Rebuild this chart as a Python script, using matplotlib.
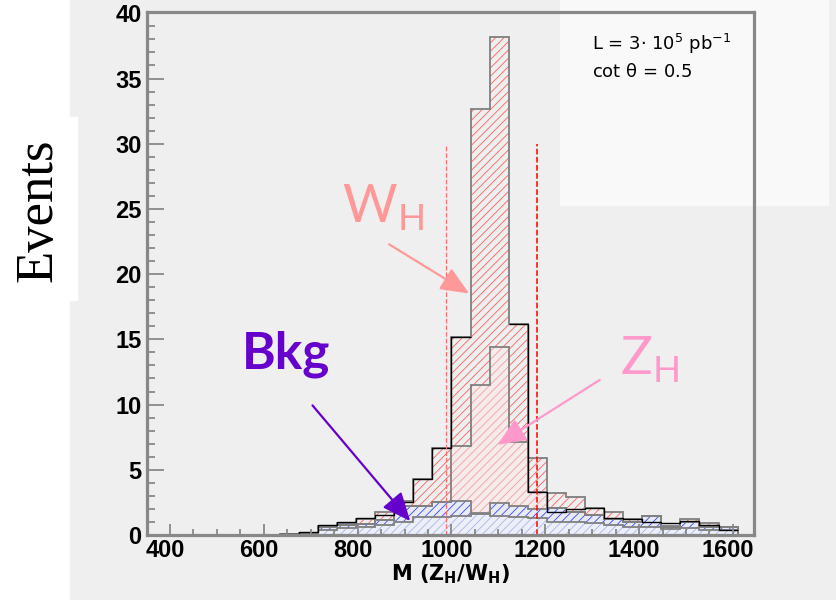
import numpy as np
import matplotlib.pyplot as plt
from matplotlib.patches import Rectangle
from matplotlib.ticker import MultipleLocator
from matplotlib.transforms import ScaledTranslation

plt.rcParams['hatch.linewidth'] = 0.6
plt.rcParams['mathtext.default'] = 'regular'

# ---------------- Data (24 bins, ~40.7 GeV wide) ----------------
edges = 634 + 40.67 * np.arange(25)

w_total = [0.1, 0.15, 0.7, 0.9, 1.2, 1.8, 2.6, 4.3, 6.7, 15.2, 32.7, 38.2,
           16.2, 5.9, 3.2, 2.9, 2.1, 1.8, 1.2, 1.45, 0.7, 1.2, 0.95, 0.6]
z_total = [0.05, 0.1, 0.6, 0.75, 0.88, 1.15, 2.2, 2.25, 2.56, 6.8, 11.5, 14.4,
           7.1, 3.3, 2.05, 1.8, 1.55, 1.2, 0.97, 1.46, 0.64, 0.97, 0.6, 0.6]
bkg = [0.05, 0.1, 0.6, 0.75, 0.88, 1.15, 2.2, 2.25, 2.56, 2.6, 1.7, 2.45,
       2.2, 2.0, 2.05, 1.8, 1.55, 1.2, 0.97, 1.46, 0.64, 0.97, 0.6, 0.6]
bkg_low = [0.0, 0.05, 0.4, 0.5, 0.6, 0.8, 1.0, 1.35, 1.4, 1.45, 1.6, 1.45,
           1.4, 1.3, 1.0, 1.0, 0.9, 0.8, 0.6, 0.6, 0.45, 0.5, 0.4, 0.4]
# black overlay; nan where it sits under the grey peak outline
black_line = [0.1, 0.2, 0.8, 1.0, 1.3, 1.5, 2.5, 4.3, 6.7, 15.2, np.nan, np.nan,
              16.2, 3.3, 1.8, 2.0, 2.1, 1.3, 1.2, 1.0, 0.9, 1.1, 0.8, 0.4]

mass_window = [988, 1183]
xticks = [400, 600, 800, 1000, 1200, 1400, 1600]
yticks = [0, 5, 10, 15, 20, 25, 30, 35, 40]

# ---------------- Figure ----------------
W, H = 837, 600
fig = plt.figure(figsize=(W / 100, H / 100), dpi=100)
fig.patch.set_facecolor('white')

# canvas background and the white boxes pasted on top of it
fig.add_artist(Rectangle((70 / W, 0), 1 - 70 / W, 1, transform=fig.transFigure,
                         color='#efefef', zorder=-10))
fig.add_artist(Rectangle((560 / W, 1 - 205 / H), 268 / W, 205 / H,
                         transform=fig.transFigure, color='#f9f9f9', zorder=-9))
fig.add_artist(Rectangle((0, 1 - 300 / H), 77 / W, 183 / H,
                         transform=fig.transFigure, color='white', zorder=-9))

ax = fig.add_axes([147 / W, 1 - 535 / H, (754 - 147) / W, (535 - 12) / H])
ax.patch.set_alpha(0)

# hatched fills
ax.stairs(w_total, edges, fill=True, facecolor='none', edgecolor='#ff6060',
          hatch='////', linewidth=0)
ax.stairs(z_total, edges, fill=True, facecolor='#f6eaea', edgecolor='#f0a0a0',
          hatch='////', linewidth=0)
ax.stairs(bkg, edges, fill=True, facecolor='#e8eaf6', edgecolor='#3848f0',
          hatch='////', linewidth=0)
ax.stairs(bkg_low, edges, fill=True, facecolor='#eceff8', edgecolor='#a8b6e8',
          hatch='////', linewidth=0)

# outlines
for vals in (w_total, z_total, bkg, bkg_low):
    ax.stairs(vals, edges, color='#808080', linewidth=1.3)
ax.stairs(black_line, edges, color='black', linewidth=1.0, baseline=None)

# mass window
ax.vlines(mass_window[0], 0, 30, colors='#ff7070', linestyles='--', linewidth=0.9)
ax.vlines(mass_window[1], 0, 30, colors='#ff0000', linestyles='--', linewidth=1.1)

# ---------------- Axes style ----------------
ax.set_xlim(351, 1645)
ax.set_ylim(0, 40.1)
ax.set_xticks(xticks)
ax.set_yticks(yticks)
ax.xaxis.set_minor_locator(MultipleLocator(50))
ax.yaxis.set_minor_locator(MultipleLocator(1))
for s in ax.spines.values():
    s.set_color('#888888')
    s.set_linewidth(2.3)
ax.tick_params(which='both', direction='in', color='#888888', width=1.3,
               top=False, right=False, labelsize=17)
ax.tick_params(axis='y', which='major', length=12, pad=4)
ax.tick_params(axis='y', which='minor', length=6)
ax.tick_params(axis='x', which='major', length=8, pad=3)
ax.tick_params(axis='x', which='minor', length=4)
for lab in ax.get_xticklabels() + ax.get_yticklabels():
    lab.set_fontfamily('Liberation Sans')
    lab.set_fontweight('bold')
# ROOT put the x labels a few pixels left of their ticks
shift = ScaledTranslation(-5 / 100, 0, fig.dpi_scale_trans)
for lab in ax.get_xticklabels():
    lab.set_transform(lab.get_transform() + shift)

ax.set_xlabel('M (Z$_H$/W$_H$)', family='Liberation Sans Narrow',
              fontweight='bold', fontsize=15, labelpad=0)
fig.text(38 / W, 1 - 210 / H, 'Events', rotation=90, ha='center', va='center',
         family='Liberation Serif', fontsize=38)

# luminosity box
ax.text(1300, 37.2, 'L = 3$\\cdot$ 10$^5$ pb$^{-1}$', fontsize=13,
        family='DejaVu Sans')
ax.text(1300, 35.1, 'cot $\\theta$ = 0.5', fontsize=13, family='DejaVu Sans')

# labels and arrows
ax.text(766, 23.95, 'W$_H$', color='#ff9999', family='Lato', fontsize=38)
ax.annotate('', xy=(1043, 18.4), xytext=(862, 22.4),
            arrowprops=dict(arrowstyle='-|>,head_length=0.7,head_width=0.3',
                            color='#ff9999', lw=1.6, mutation_scale=25))
ax.text(1359, 12.3, 'Z$_H$', color='#ff99cc', family='Lato', fontsize=38)
ax.annotate('', xy=(1093, 6.8), xytext=(1321, 12.0),
            arrowprops=dict(arrowstyle='-|>,head_length=0.7,head_width=0.3',
                            color='#ff99cc', lw=1.6, mutation_scale=25))
ax.text(553, 12.8, 'Bkg', color='#6600cc', family='Lato', fontweight='bold',
        fontsize=37)
ax.annotate('', xy=(916, 0.9), xytext=(700, 10.1),
            arrowprops=dict(arrowstyle='-|>,head_length=0.7,head_width=0.3',
                            color='#6600cc', lw=1.6, mutation_scale=25))

fig.savefig('out.png', dpi=100)
